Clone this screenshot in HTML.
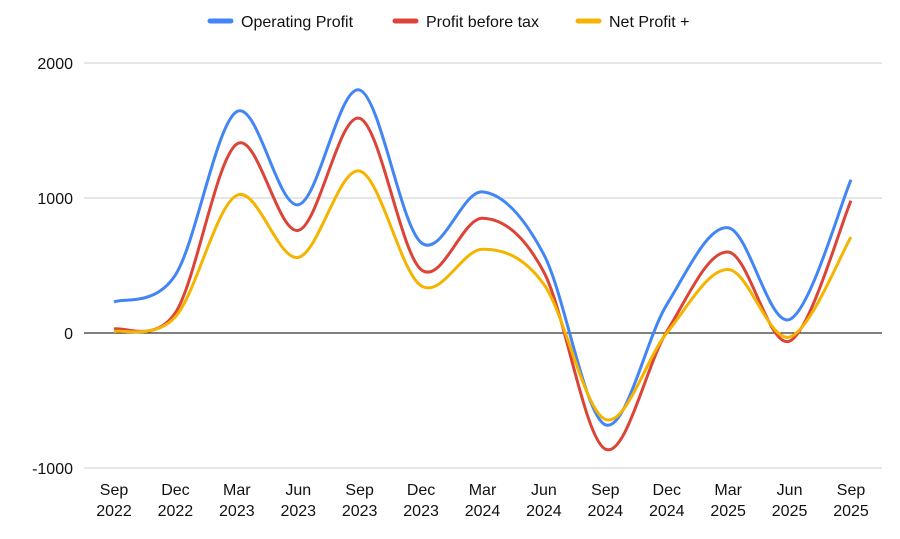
<!DOCTYPE html>
<html><head><meta charset="utf-8"><style>
body{margin:0;background:#fff;font-family:"Liberation Sans",Arial,sans-serif}
svg text{font-family:"Liberation Sans",Arial,sans-serif;fill:#111}
</style></head><body>
<svg id="c" width="900" height="534"></svg>
<script>
const categories=[["Sep","2022"],["Dec","2022"],["Mar","2023"],["Jun","2023"],["Sep","2023"],["Dec","2023"],["Mar","2024"],["Jun","2024"],["Sep","2024"],["Dec","2024"],["Mar","2025"],["Jun","2025"],["Sep","2025"]];
const operatingProfit=[230,430,1640,950,1800,670,1045,580,-680,210,780,100,1135];
const profitBeforeTax=[30,150,1400,760,1590,470,850,450,-860,10,600,-60,980];
const netProfit=[10,120,1020,560,1200,350,620,360,-640,0,470,-30,710];
const yTicks=[2000,1000,0,-1000];
const seriesNames=["Operating Profit","Profit before tax","Net Profit +"];
const colors=["#4285f4","#db4437","#f4b400"];
const svg=document.getElementById('c');const NS="http://www.w3.org/2000/svg";
function y(v){return 333-v*0.135;}
function x(i){return 114+i*(851-114)/(categories.length-1);}
function mk(t,a,p){const e=document.createElementNS(NS,t);for(const k in a)e.setAttribute(k,a[k]);(p||svg).appendChild(e);return e;}
yTicks.forEach(t=>{
 const l=mk('line',{x1:84,x2:882,y1:y(t),y2:y(t),stroke:t===0?'#000':'#ccc','stroke-width':1});
 
 
 const tx=mk('text',{x:73,y:y(t)+6,'text-anchor':'end','font-size':16});tx.textContent=t;
 
 
});
categories.forEach((c,i)=>{
 const tx=mk('text',{x:x(i),y:495,'text-anchor':'middle','font-size':16});
 
 
 const a=mk('tspan',{x:x(i)},tx);a.textContent=c[0];
 const b=mk('tspan',{x:x(i),dy:21},tx);b.textContent=c[1];
});
function path(vals){
 const p=vals.map((v,i)=>[x(i),y(v)]);let d=`M${p[0][0]},${p[0][1]}`;
 for(let i=0;i<p.length-1;i++){
  const p0=p[Math.max(0,i-1)],p1=p[i],p2=p[i+1],p3=p[Math.min(p.length-1,i+2)];const t=0.5/3*2;
  d+=` C${p1[0]+(p2[0]-p0[0])*t/2},${p1[1]+(p2[1]-p0[1])*t/2} ${p2[0]-(p3[0]-p1[0])*t/2},${p2[1]-(p3[1]-p1[1])*t/2} ${p2[0]},${p2[1]}`;
 }return d;}
[operatingProfit,profitBeforeTax,netProfit].forEach((s,k)=>{
 const pa=mk('path',{d:path(s),fill:'none',stroke:colors[k],'stroke-width':3});
 
 
});
const lx=[210,395,578];
seriesNames.forEach((n,k)=>{
 const g=mk('g',{});
 
 
 mk('line',{x1:lx[k],x2:lx[k]+21,y1:21,y2:21,stroke:colors[k],'stroke-width':5,'stroke-linecap':'round'},g);
 const t=mk('text',{x:lx[k]+31,y:27,'font-size':16},g);t.textContent=n;
});
</script>
</body></html>
